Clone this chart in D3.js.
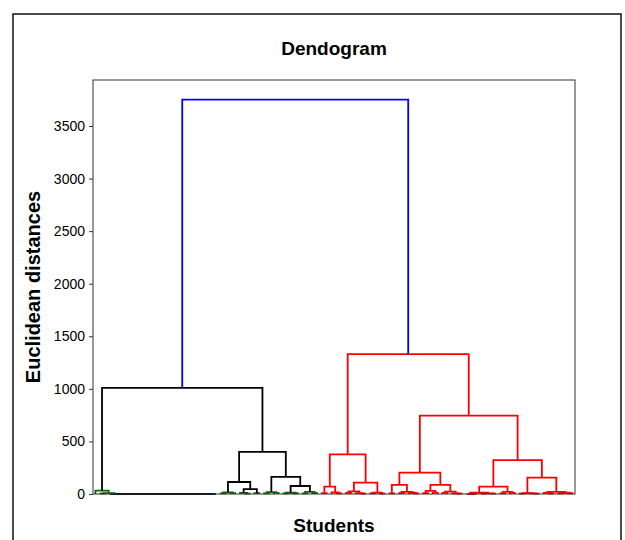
<!DOCTYPE html>
<html>
<head>
<meta charset="utf-8">
<script src="https://cdn.jsdelivr.net/npm/d3@7"></script>
<style>
  body { margin: 0; background: #fff; }
  text { font-family: "Liberation Sans", Arial, sans-serif; }
</style>
</head>
<body>
<svg id="chart" width="625" height="540"></svg>
<script>
// merge tree: [height, left, right]; 1 = one student, n > 1 = n identical students (distance 0)
const leftGroup = [1010,
    [33, 1, [8, [4, 1, 1], 23]],
    [400,
        [114, [15, [5, 1, 1], [8, 1, 1]], [47, [10, 1, [4, 1, 1]], [8, 1, 1]]],
        [162, [18, [6, 1, 1], [10, 1, 1]], [76, [12, [5, 1, 1], [7, 1, 1]], [20, [6, 1, 1], [9, 1, 1]]]]
    ]
];
const rightGroup = [1330,
    [377,
        [70, [8, 1, 1], [15, 1, [5, 1, 1]]],
        [108, [25, [10, 1, 1], [8, 1, [4, 1, 1]]], [14, [5, 1, 1], [3, 1, 1]]]
    ],
    [745,
        [203,
            [86, [6, 1, 1], [20, [8, 1, 1], [12, 1, [5, 1, 1]]]],
            [86, [30, [9, 1, 1], [14, 1, 1]], [22, [10, 1, 1], [6, 1, [3, 1, 1]]]]
        ],
        [323,
            [70, [12, 3, [6, [3, 1, 1], [4, 1, 1]]], [20, [6, 1, 1], [10, 1, 1]]],
            [155, [8, [4, 1, 1], [6, 1, [3, 1, 1]]], [20, [10, 1, [4, 1, 1]], [12, [5, 1, 1], [7, 1, 1]]]]
        ]
    ]
];
const rootHeight = 3750;
const yTicks = [0, 500, 1000, 1500, 2000, 2500, 3000, 3500];

const svg = d3.select('#chart');
const margin = {top: 80, right: 50, bottom: 46, left: 93};
const w = 625, h = 540;

// collect links the way scipy does (four corner points per merge)
let leafIndex = 0;
const links = [];

function layout(node, group) {
    if (typeof node === 'number') {
        const xs = d3.range(node).map(() => 10 * (leafIndex++) + 5);
        let pos = xs[xs.length - 1];
        for (let j = xs.length - 2; j >= 0; j--) {
            links.push({pts: [[xs[j], 0], [xs[j], 0], [pos, 0], [pos, 0]], group: group, height: 0, chain: true});
            pos = (xs[j] + pos) / 2;
        }
        return {x: pos, h: 0};
    }
    const a = layout(node[1], group);
    const b = layout(node[2], group);
    links.push({pts: [[a.x, a.h], [a.x, node[0]], [b.x, node[0]], [b.x, b.h]], group: group, height: node[0], chain: false});
    return {x: (a.x + b.x) / 2, h: node[0]};
}

const l = layout(leftGroup, 'left');
const r = layout(rightGroup, 'right');
links.push({pts: [[l.x, l.h], [l.x, rootHeight], [r.x, rootHeight], [r.x, r.h]], group: 'root', height: rootHeight, chain: false});
const leafTotal = leafIndex;

const xScale = d3.scaleLinear()
    .domain([0, 10 * leafTotal])
    .range([margin.left, w - margin.right]);

const yScale = d3.scaleLinear()
    .domain([0, rootHeight * 1.05])
    .range([h - margin.bottom, margin.top]);

function linkColor(d) {
    if (d.group === 'root') return '#0000ff';
    if (d.group === 'right') return '#ff0000';
    if (!d.chain && d.height < 40) return '#0b650b';
    return '#000000';
}

// outer frame
svg.append('path')
    .attr('d', 'M13,540 L13,14 L621,14 L621,540')
    .attr('fill', 'none')
    .attr('stroke', '#111')
    .attr('stroke-width', 1.5);

const line = d3.line()
    .x(p => xScale(p[0]))
    .y(p => yScale(p[1]));

svg.append('g')
    .selectAll('path')
    .data(links)
    .enter().append('path')
    .attr('d', d => line(d.pts))
    .attr('fill', 'none')
    .attr('stroke', linkColor)
    .attr('stroke-width', 1.8);

// y axis
const yAxis = d3.axisLeft(yScale)
    .tickValues(yTicks)
    .tickFormat(d3.format('d'))
    .tickSize(4)
    .tickPadding(4);

const gy = svg.append('g')
    .attr('transform', 'translate(' + margin.left + ',0)')
    .call(yAxis);
gy.select('.domain').remove();
gy.selectAll('text')
    .style('font-size', '14px')
    .attr('fill', '#000');
gy.selectAll('line').attr('stroke', '#333');

// plot frame
svg.append('rect')
    .attr('x', margin.left)
    .attr('y', margin.top)
    .attr('width', w - margin.left - margin.right)
    .attr('height', h - margin.top - margin.bottom)
    .attr('fill', 'none')
    .attr('stroke', '#333')
    .attr('stroke-width', 1);

// texts
const cx = (margin.left + w - margin.right) / 2;
svg.append('text')
    .attr('x', cx)
    .attr('y', 55)
    .attr('text-anchor', 'middle')
    .style('font-size', '19px')
    .style('font-weight', 'bold')
    .text('Dendogram');

svg.append('text')
    .attr('x', cx)
    .attr('y', 532)
    .attr('text-anchor', 'middle')
    .style('font-size', '19px')
    .style('font-weight', 'bold')
    .text('Students');

svg.append('text')
    .attr('transform', 'translate(40,' + 287 + ') rotate(-90)')
    .attr('text-anchor', 'middle')
    .style('font-size', '20px')
    .style('font-weight', 'bold')
    .text('Euclidean distances');
</script>
</body>
</html>
